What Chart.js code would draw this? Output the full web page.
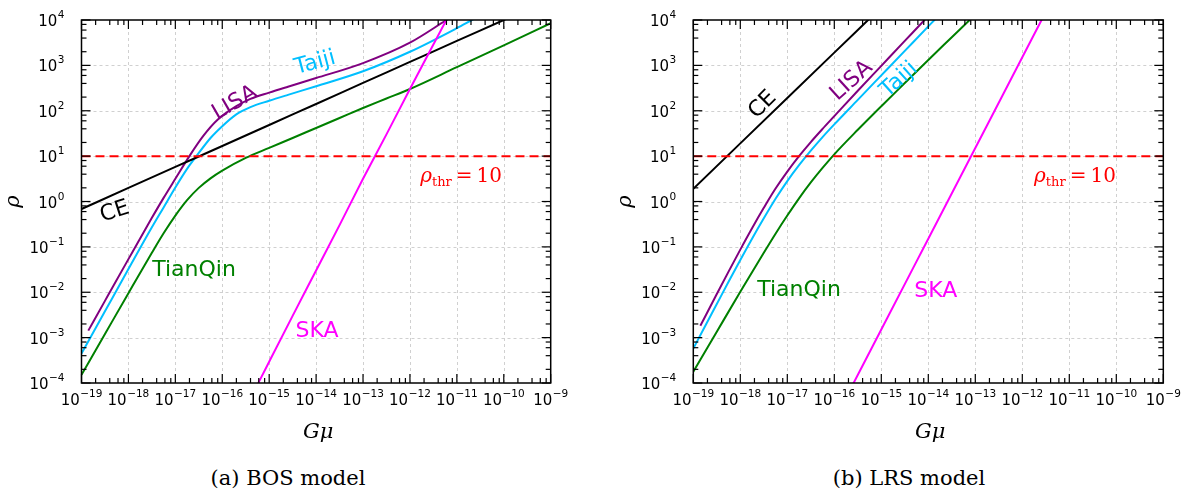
<!DOCTYPE html>
<html><head><meta charset="utf-8">
<script src="https://cdn.jsdelivr.net/npm/chart.js@4.4.0/dist/chart.umd.min.js"></script>
<style>
html,body{margin:0;padding:0;background:#fff;width:1186px;height:494px;overflow:hidden;}
#wa{position:absolute;left:0;top:0;width:600px;height:450px;}
#wb{position:absolute;left:600px;top:0;width:586px;height:450px;}
.cap{position:absolute;top:466px;font-family:'DejaVu Serif',serif;font-size:21px;color:#000;white-space:nowrap;transform:translateX(-50%);}
</style></head><body>
<div id="wa"><canvas id="ca" width="600" height="450"></canvas></div>
<div id="wb"><canvas id="cb" width="586" height="450"></canvas></div>
<div class="cap" style="left:288px">(a) BOS model</div>
<div class="cap" style="left:909px">(b) LRS model</div>
<script>
// ---- tick labels (decade exponents) ----
const xTickExponents = [-19,-18,-17,-16,-15,-14,-13,-12,-11,-10,-9];
const yTickExponents = [-4,-3,-2,-1,0,1,2,3,4];
const minorSubs = [2,4,6,8];

// ---- threshold ----
const thrGmu = [1e-19, 1e-9];
const thrRho = [10, 10];

// ---- (a) BOS model ----
const bosCeGmu = [1e-19,1e-18,1e-17,1e-16,1e-15,1e-14,1e-13,1e-12,1e-11,1e-10,2e-10];
const bosCeRho = [0.684,1.99,5.77,16.7,48.6,141,410,1190,3460,10000,13800];
const bosLisaGmu = [1.396e-19,3.162e-19,1e-18,3.162e-18,5.623e-18,1e-17,1.995e-17,3.981e-17,7.943e-17,1.995e-16,3.981e-16,1e-15,2.512e-15,1e-14,1e-13,1e-12,6.026e-12,1e-11];
const bosLisaRho = [1.426e-3,6.457e-3,0.0537,0.4365,1.202,3.162,10.0,28.18,63.1,125.9,182,251.2,338.8,524.8,1122,3162,10000,13800];
const bosTaijiGmu = [1e-19,3.162e-19,1e-18,3.162e-18,5.623e-18,1e-17,1.778e-17,2.818e-17,5.623e-17,1e-16,1.995e-16,3.981e-16,1e-15,2.512e-15,1e-14,1e-13,1e-12,1e-11,2.089e-11,3.162e-11];
const bosTaijiRho = [4.467e-4,3.802e-3,0.03236,0.2692,0.7413,2.042,5.248,10.0,25.12,45.71,83.18,120.2,166,223.9,346.7,741.3,1995,6607,10000,12590];
const bosTianqinGmu = [1e-19,3.162e-19,1e-18,3.162e-18,5.623e-18,1e-17,1.778e-17,3.162e-17,5.623e-17,1e-16,3.162e-16,1e-15,3.162e-15,1e-14,3.162e-14,1e-13,3.162e-13,1e-12,1e-11,1e-10,1e-9];
const bosTianqinRho = [1.514e-4,1.202e-3,9.55e-3,0.07413,0.1995,0.4898,1.072,1.995,3.236,4.786,9.12,15.14,25.12,41.69,69.18,114.8,186.2,302,912,2754,8511];
const bosSkaGmu = [5.01e-16,1e-15,3.16e-15,1e-14,3.16e-14,1e-13,3.16e-13,1e-12,3.16e-12,1e-11];
const bosSkaRho = [7.24e-5,2.95e-4,3.02e-3,0.0302,0.302,3.16,30.2,302,2880,27500];

// ---- (b) LRS model ----
const lrsCeGmu = [1e-19,1e-18,1e-17,1e-16,1e-15];
const lrsCeRho = [1.91,19.1,191,1910,19100];
const lrsLisaGmu = [1.413e-19,3.162e-19,5.623e-19,1e-18,1.778e-18,3.162e-18,5.623e-18,1e-17,1.778e-17,3.162e-17,5.623e-17,1e-16,3.162e-16,1e-15,3.162e-15,8.128e-15,1e-14];
const lrsLisaRho = [1.820e-3,9.12e-3,0.02851,0.0871,0.257,0.7244,1.928,4.571,10.0,20.42,39.81,75.86,275.4,977.2,3467,9772,12300];
const lrsTaijiGmu = [1e-19,1.778e-19,3.162e-19,5.623e-19,1e-18,1.778e-18,3.162e-18,5.623e-18,1e-17,1.778e-17,3.162e-17,5.623e-17,1e-16,3.162e-16,1e-15,3.162e-15,1e-14,1.349e-14,3.162e-14];
const lrsTaijiRho = [5.754e-4,1.778e-3,5.495e-3,0.01698,0.05129,0.1514,0.4266,1.148,2.818,6.31,13.18,26.3,50.12,173.8,602.6,2089,7244,10000,25120];
const lrsTianqinGmu = [1e-19,3.162e-19,1e-18,3.162e-18,5.623e-18,1e-17,1.778e-17,3.162e-17,5.623e-17,1e-16,3.162e-16,1e-15,3.162e-15,1e-14,3.162e-14,8.128e-14,1e-13];
const lrsTianqinRho = [1.778e-4,1.349e-3,0.01023,0.07413,0.195,0.4898,1.175,2.63,5.495,10.96,38.02,125.9,407.4,1318,4169,10720,13180];
const lrsSkaGmu = [2.0e-16,1e-15,1e-14,1e-13,1e-12,3.16e-12];
const lrsSkaRho = [6.03e-5,1.51e-3,0.151,15.1,1510,15100];

// ---- styles ----
const COL = {CE:'#000000', LISA:'#800080', Taiji:'#00BFFF', TianQin:'#008000', SKA:'#FF00FF', thr:'#FF0000'};
const SANS = '"DejaVu Sans", sans-serif';
const SERIF = '"DejaVu Serif", serif';

function pts(xs, ys){ return xs.map((v,i)=>({x:v, y:ys[i]})); }

function lineDs(name, xs, ys, color, dash){
  return {label:name, data:pts(xs,ys), borderColor:color, backgroundColor:color, borderWidth:2,
    borderDash:dash||[], pointRadius:0, pointHoverRadius:0, fill:false, cubicInterpolationMode:'monotone'};
}

function drawPow(ctx, exp, x, yBase, align){
  const base='10', sup = exp<0 ? '\u2212'+(-exp) : String(exp);
  ctx.font = '15px '+SANS; const wb = ctx.measureText(base).width;
  ctx.font = '10.5px '+SANS; const ws = ctx.measureText(sup).width;
  const total = wb + ws + 0.5;
  const x0 = align==='center' ? x - total/2 : x - total;
  ctx.textAlign='left'; ctx.textBaseline='alphabetic';
  ctx.font = '15px '+SANS; ctx.fillText(base, x0, yBase);
  ctx.font = '10.5px '+SANS; ctx.fillText(sup, x0+wb+0.5, yBase-8);
}

function panelPlugin(cfg){
  return {
    id:'panel_'+cfg.id,
    beforeDatasetsDraw(chart){
      const {ctx, chartArea:a, scales:{x,y}} = chart;
      ctx.save();
      ctx.strokeStyle='#d0d0d0'; ctx.lineWidth=1; ctx.setLineDash([3,3]);
      xTickExponents.forEach(e=>{
        const px = Math.round(x.getPixelForValue(Math.pow(10,e)))+0.5;
        if(px<=a.left+2 || px>=a.right-2) return;
        ctx.beginPath(); ctx.moveTo(px,a.top); ctx.lineTo(px,a.bottom); ctx.stroke();
      });
      yTickExponents.forEach(e=>{
        const py = Math.round(y.getPixelForValue(Math.pow(10,e)))+0.5;
        if(py<=a.top+2 || py>=a.bottom-2) return;
        ctx.beginPath(); ctx.moveTo(a.left,py); ctx.lineTo(a.right,py); ctx.stroke();
      });
      ctx.restore();
    },
    afterDatasetsDraw(chart){
      const {ctx, chartArea:a, scales:{x,y}} = chart;
      ctx.save();
      ctx.setLineDash([]);
      ctx.strokeStyle='#000'; ctx.lineWidth=1.5;
      ctx.strokeRect(a.left, a.top, a.right-a.left, a.bottom-a.top);
      ctx.lineWidth=1.2;
      const tick=(x1,y1,x2,y2)=>{ctx.beginPath();ctx.moveTo(x1,y1);ctx.lineTo(x2,y2);ctx.stroke();};
      xTickExponents.forEach((e,i)=>{
        const px = x.getPixelForValue(Math.pow(10,e));
        tick(px,a.bottom,px,a.bottom-9); tick(px,a.top,px,a.top+9);
        if(i<xTickExponents.length-1) minorSubs.forEach(s=>{
          const mx = x.getPixelForValue(s*Math.pow(10,e));
          tick(mx,a.bottom,mx,a.bottom-5); tick(mx,a.top,mx,a.top+5);
        });
      });
      yTickExponents.forEach((e,i)=>{
        const py = y.getPixelForValue(Math.pow(10,e));
        tick(a.left,py,a.left+9,py); tick(a.right,py,a.right-9,py);
        if(i<yTickExponents.length-1) minorSubs.forEach(s=>{
          const my = y.getPixelForValue(s*Math.pow(10,e));
          tick(a.left,my,a.left+5,my); tick(a.right,my,a.right-5,my);
        });
      });
      ctx.fillStyle='#000';
      xTickExponents.forEach(e=>{ drawPow(ctx, e, x.getPixelForValue(Math.pow(10,e)), a.bottom+22, 'center'); });
      yTickExponents.forEach(e=>{ drawPow(ctx, e, a.left-17, y.getPixelForValue(Math.pow(10,e))+6, 'right'); });
      ctx.font='italic 21px '+SERIF; ctx.textAlign='center'; ctx.textBaseline='alphabetic';
      ctx.fillText('G\u03bc', (a.left+a.right)/2+2, a.bottom+55);
      ctx.save(); ctx.translate(a.left-68, (a.top+a.bottom)/2); ctx.rotate(-Math.PI/2);
      ctx.textBaseline='middle'; ctx.fillText('\u03c1', 0, 0); ctx.restore();
      cfg.labels.forEach(L=>{
        const px = x.getPixelForValue(L.gmu), py = y.getPixelForValue(L.rho);
        ctx.save(); ctx.translate(px,py); ctx.rotate(L.angle*Math.PI/180);
        ctx.fillStyle=L.color; ctx.font='22px '+SANS; ctx.textAlign='center'; ctx.textBaseline='middle';
        ctx.fillText(L.text,0,0); ctx.restore();
      });
      {
        const px = x.getPixelForValue(cfg.thrLabel.gmu), py = y.getPixelForValue(cfg.thrLabel.rho);
        ctx.fillStyle=COL.thr; ctx.textAlign='left'; ctx.textBaseline='alphabetic';
        ctx.font='italic 20px '+SERIF; const w1 = ctx.measureText('\u03c1').width;
        ctx.font='13px '+SERIF; const w2 = ctx.measureText('thr').width;
        ctx.font='20px '+SERIF; const w3 = ctx.measureText('=').width, w4 = ctx.measureText('10').width;
        const gap=4, total = w1+w2+gap+w3+gap+w4;
        let cx = px-total/2; const base = py+7;
        ctx.font='italic 20px '+SERIF; ctx.fillText('\u03c1', cx, base); cx+=w1;
        ctx.font='13px '+SERIF; ctx.fillText('thr', cx, base+4); cx+=w2+gap;
        ctx.font='20px '+SERIF; ctx.fillText('=', cx, base); cx+=w3+gap; ctx.fillText('10', cx, base);
      }
      ctx.restore();
    }
  };
}

function makeChart(canvasId, datasets, cfg){
  return new Chart(document.getElementById(canvasId), {
    type:'line',
    data:{datasets},
    options:{
      responsive:false, animation:false, devicePixelRatio:1,
      layout:{padding:{top:20, right:cfg.padRight, left:0, bottom:0}},
      plugins:{legend:{display:false}, tooltip:{enabled:false}, title:{display:false}},
      scales:{
        x:{type:'logarithmic', min:1e-19, max:1e-9, grid:{display:false}, border:{display:false}, ticks:{display:false},
           afterFit(s){ s.height = 67; }},
        y:{type:'logarithmic', min:1e-4, max:1e4, grid:{display:false}, border:{display:false}, ticks:{display:false},
           afterFit(s){ s.width = cfg.yWidth; }}
      }
    },
    plugins:[panelPlugin(cfg)]
  });
}

makeChart('ca', [
  lineDs('threshold', thrGmu, thrRho, COL.thr, [9,5]),
  lineDs('SKA', bosSkaGmu, bosSkaRho, COL.SKA),
  lineDs('CE', bosCeGmu, bosCeRho, COL.CE),
  lineDs('TianQin', bosTianqinGmu, bosTianqinRho, COL.TianQin),
  lineDs('Taiji', bosTaijiGmu, bosTaijiRho, COL.Taiji),
  lineDs('LISA', bosLisaGmu, bosLisaRho, COL.LISA)
], {
  id:'a', yWidth:81.5, padRight:49.3,
  labels:[
    {text:'CE', gmu:5.1e-19, rho:0.59, angle:-18, color:COL.CE},
    {text:'LISA', gmu:1.86e-16, rho:148, angle:-30, color:COL.LISA},
    {text:'Taiji', gmu:9.5e-15, rho:1120, angle:-15, color:COL.Taiji},
    {text:'TianQin', gmu:2.5e-17, rho:0.031, angle:0, color:COL.TianQin},
    {text:'SKA', gmu:1.05e-14, rho:1.4e-3, angle:0, color:COL.SKA}
  ],
  thrLabel:{gmu:1.23e-11, rho:3.8}
});

makeChart('cb', [
  lineDs('threshold', thrGmu, thrRho, COL.thr, [9,5]),
  lineDs('SKA', lrsSkaGmu, lrsSkaRho, COL.SKA),
  lineDs('CE', lrsCeGmu, lrsCeRho, COL.CE),
  lineDs('TianQin', lrsTianqinGmu, lrsTianqinRho, COL.TianQin),
  lineDs('Taiji', lrsTaijiGmu, lrsTaijiRho, COL.Taiji),
  lineDs('LISA', lrsLisaGmu, lrsLisaRho, COL.LISA)
], {
  id:'b', yWidth:93.3, padRight:22.7,
  labels:[
    {text:'CE', gmu:3.0e-18, rho:135, angle:-45, color:COL.CE},
    {text:'LISA', gmu:2.34e-16, rho:457, angle:-42, color:COL.LISA},
    {text:'Taiji', gmu:2.4e-15, rho:479, angle:-42, color:COL.Taiji},
    {text:'TianQin', gmu:1.78e-17, rho:0.0112, angle:0, color:COL.TianQin},
    {text:'SKA', gmu:1.44e-14, rho:0.0107, angle:0, color:COL.SKA}
  ],
  thrLabel:{gmu:1.32e-11, rho:3.8}
});
</script>
</body></html>
